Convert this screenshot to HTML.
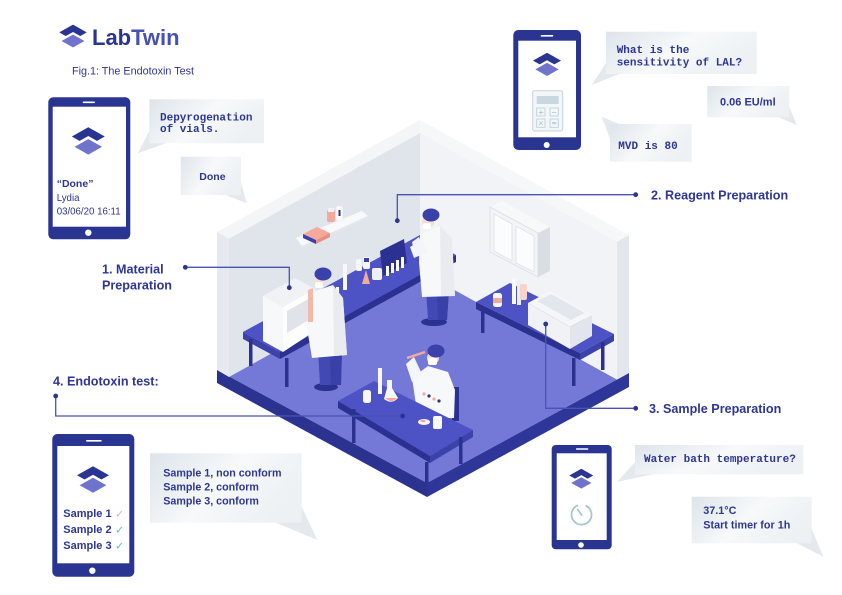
<!DOCTYPE html>
<html><head><meta charset="utf-8"><style>
html,body{margin:0;padding:0;background:#fff;}
svg{display:block;}
.mono{font-family:"Liberation Mono",monospace;font-weight:bold;font-size:11px;fill:#2d3696;}
.sans{font-family:"Liberation Sans",sans-serif;fill:#2d3696;}
.lbl{font-family:"Liberation Sans",sans-serif;font-weight:bold;font-size:12.6px;fill:#2d3696;}
</style></head><body>
<svg width="842" height="595" viewBox="0 0 842 595" xmlns="http://www.w3.org/2000/svg">
<defs>
<linearGradient id="bg" x1="0" y1="0" x2="1" y2="0.4">
<stop offset="0" stop-color="#dde4ea"/><stop offset="0.55" stop-color="#f7f9fa"/><stop offset="1" stop-color="#edf1f4"/>
</linearGradient>
<g id="logo">
<polygon points="-16,-5 0,-14 16,-5 0,4" fill="#2a3592"/>
<polygon points="-16,5 0,-4 16,5 0,14" fill="#6f73cc" stroke="#fff" stroke-width="2.6" stroke-linejoin="miter"/>
</g>
</defs>

<!-- Header -->
<use href="#logo" transform="translate(73,36.7) scale(0.86)"/>
<text x="92" y="45" font-family="Liberation Sans, sans-serif" font-weight="bold" font-size="22"><tspan fill="#2a3592">Lab</tspan><tspan fill="#4551b3">Twin</tspan></text>
<text x="72" y="74.5" class="sans" font-size="10.8">Fig.1: The Endotoxin Test</text>

<!-- ROOM -->
<!-- floor -->
<polygon points="217,370 420,258 629,373 427,483" fill="#7479d8"/>
<polygon points="217,370 427,483 427,497 217,383" fill="#2b3290"/>
<polygon points="427,483 629,373 629,387 427,497" fill="#2f3699"/>
<!-- left wall -->
<polygon points="229,238.6 420,133 420,271 229,377" fill="#e0e4eb"/>
<polygon points="217,232 229,238.6 229,377 217,370" fill="#e6e9ef"/>
<polygon points="217,232 420,120 420,133 229,238.6" fill="#f3f5f7"/>
<!-- right wall -->
<polygon points="420,133 617,241.6 617,379.6 420,271" fill="#f1f3f6"/>
<polygon points="617,241.6 629,235 629,373 617,379.6" fill="#e3e7ec"/>
<polygon points="420,120 629,235 617,241.6 420,133" fill="#f6f7f9"/>

<!-- shelf on left wall -->
<polygon points="296,238 362,211 368,216 302,246" fill="#f8f9fb"/>
<polygon points="302,246 368,216 368,219 302,249" fill="#e3e6ec"/>
<polygon points="303,234 317,227 330,233 316,240" fill="#f4a99a"/>
<polygon points="303,234 316,240 316,244 303,238" fill="#3a41aa"/>
<polygon points="316,240 330,233 330,237 316,244" fill="#e88f7f"/>
<rect x="327" y="210" width="8" height="12" rx="2" fill="#f4a99a"/>
<rect x="328" y="208" width="6" height="4" fill="#f0f1f5"/>
<rect x="336" y="206" width="7" height="15" rx="2" fill="#fafbfc" stroke="#e1e4ea" stroke-width="0.5"/>
<rect x="338.5" y="210" width="2" height="6" fill="#2a3592"/>

<!-- wall cabinet on right wall -->
<polygon points="490,207 502,201 550,227 538,233" fill="#f7f8fa"/>
<polygon points="490,207 538,233 538,277 490,252" fill="#f2f4f7" stroke="#dfe3e9" stroke-width="1"/>
<polygon points="538,233 550,227 550,271 538,277" fill="#d9dde4"/>
<polygon points="494,214 512,224 512,261 494,251" fill="#fbfcfd" stroke="#e0e4ea" stroke-width="1"/>
<polygon points="516,226 534,236 534,272 516,263" fill="#fbfcfd" stroke="#e0e4ea" stroke-width="1"/>

<!-- long bench (left) -->
<polygon points="243,332 420,235 456,255 280,352" fill="#4d53c4"/>
<polygon points="280,352 456,255 456,262 280,359" fill="#2b3190"/>
<polygon points="243,332 280,352 280,359 243,339" fill="#3b42aa"/>
<rect x="249" y="339" width="3.5" height="27" fill="#2b3190"/>
<rect x="285" y="358" width="3.5" height="29" fill="#2b3190"/>
<!-- glassware on long bench -->
<polygon points="380,251 404,239 407,263 383,276" fill="#2b3190"/>
<rect x="386" y="266" width="3" height="10" fill="#fafbfc"/>
<rect x="391" y="263" width="3" height="10" fill="#fafbfc"/>
<rect x="396" y="260" width="3" height="11" fill="#fafbfc"/>
<rect x="401" y="257" width="3" height="11" fill="#fafbfc"/>
<rect x="372" y="268" width="10" height="12" rx="2" fill="#eef0f4"/>
<rect x="363" y="257" width="7" height="12" rx="2" fill="#f5f6f9"/>
<rect x="364" y="258" width="5" height="4" fill="#3a41aa"/>
<path d="M362,284 L366,270 L370,284 Z" fill="#f4a99a"/>
<rect x="356" y="259" width="6" height="12" rx="2" fill="#f5f6f9"/>
<rect x="343" y="264" width="4" height="26" fill="#f7f8fa"/>
<rect x="336" y="287" width="3" height="10" fill="#f7f8fa"/>
<rect x="329" y="291" width="3" height="10" fill="#f7f8fa"/>
<polygon points="412,242 419,237 423,248 414,252" fill="#f2f3f7"/>

<!-- white cabinet (hood) -->
<polygon points="263,296 295,278 315,289 283,307" fill="#f1f2f6"/>
<polygon points="263,296 283,307 283,352 263,341" fill="#f7f8fa"/>
<polygon points="283,307 315,289 315,331 283,352" fill="#fdfdfe"/>
<polygon points="287,311 312,297 312,318 287,333" fill="#e0e3ea"/>

<!-- person 2 (back) -->
<ellipse cx="434" cy="322" rx="13" ry="4" fill="#2b3190"/>
<polygon points="426,290 449,290 447,320 428,320" fill="#4249b5"/>
<polygon points="437,292 449,290 447,320 438,320" fill="#3940a8"/>
<polygon points="420,234 440,226 452,238 455,296 422,297 419,262" fill="#f7f8fa"/>
<polygon points="440,226 452,238 455,296 441,296" fill="#e9ebf0"/>
<polygon points="410,247 422,240 428,252 414,258" fill="#f4f5f8"/>
<circle cx="428" cy="222" r="6" fill="#f6dcd3"/>
<rect x="423" y="223" width="8" height="6" rx="2" fill="#fff"/>
<ellipse cx="431" cy="215" rx="8.5" ry="6.5" fill="#3a41aa"/>

<!-- right bench -->
<polygon points="476,302 510,283 614,334 580,353" fill="#4d53c4"/>
<polygon points="476,302 580,353 580,360 476,309" fill="#2b3190"/>
<polygon points="580,353 614,334 614,341 580,360" fill="#3b42aa"/>
<rect x="481" y="309" width="3.5" height="24" fill="#2b3190"/>
<rect x="572" y="358" width="3.5" height="28" fill="#2b3190"/>
<rect x="601" y="342" width="3.5" height="28" fill="#2b3190"/>
<!-- items on right bench -->
<rect x="493" y="293" width="9" height="14" rx="2.5" fill="#f6f7f9"/>
<rect x="493" y="298" width="9" height="5" fill="#f4a99a"/>
<rect x="512" y="278" width="4" height="26" fill="#f7f8fa"/>
<rect x="517" y="281" width="4" height="24" fill="#eceef2"/>
<rect x="520" y="284" width="7" height="16" rx="2" fill="#f8d3ca"/>
<!-- water bath -->
<polygon points="528,303 550,291 592,315 570,327" fill="#f5f6f8"/>
<polygon points="537,301 551,294 585,313 571,320" fill="#e3e6ec"/>
<polygon points="528,303 570,327 570,349 528,325" fill="#f0f2f5"/>
<polygon points="570,327 592,315 592,336 570,349" fill="#e2e5eb"/>

<!-- person 1 (left standing) -->
<ellipse cx="326" cy="387" rx="12" ry="4" fill="#2b3190"/>
<polygon points="318,350 342,350 341,385 320,385" fill="#4249b5"/>
<polygon points="330,350 342,350 341,385 331,385" fill="#3940a8"/>
<polygon points="312,292 333,285 343,298 347,355 312,358 307,328" fill="#f7f8fa"/>
<polygon points="333,285 343,298 347,355 334,356" fill="#e9ebf0"/>
<polygon points="308,290 313,288 313,322 308,322" fill="#f2b8a8"/>
<circle cx="320" cy="281" r="6" fill="#f6dcd3"/>
<rect x="315" y="282" width="8" height="6" rx="2" fill="#fff"/>
<ellipse cx="323" cy="274" rx="8.5" ry="6.5" fill="#3a41aa"/>

<!-- person 3 (seated) -->
<rect x="452" y="387" width="7" height="34" fill="#2b3190"/>
<polygon points="412,378 428,366 448,372 455,390 454,418 418,418" fill="#f7f8fa"/>
<polygon points="406,364 414,357 422,374 412,382" fill="#f4f5f8"/>
<line x1="407" y1="358" x2="425" y2="352" stroke="#f4a99a" stroke-width="2.5"/>
<circle cx="433" cy="358" r="6" fill="#f6dcd3"/>
<rect x="428" y="358" width="9" height="7" rx="2" fill="#fff"/>
<ellipse cx="436" cy="351" rx="8.5" ry="6.5" fill="#3a41aa"/>
<circle cx="424" cy="394" r="1.6" fill="#f4a99a"/><circle cx="429" cy="396" r="1.6" fill="#2b3190"/>
<circle cx="434" cy="399" r="1.6" fill="#f4a99a"/><circle cx="439" cy="401" r="1.6" fill="#2b3190"/>

<!-- front desk -->
<polygon points="338,401 374,381 473,430 430,456" fill="#4d53c4"/>
<polygon points="338,401 430,456 430,463 338,408" fill="#2b3190"/>
<polygon points="430,456 473,430 473,437 430,463" fill="#3b42aa"/>
<rect x="352" y="409" width="3.5" height="34" fill="#2b3190"/>
<rect x="425" y="462" width="3.5" height="22" fill="#2b3190"/>
<rect x="459" y="437" width="3.5" height="27" fill="#2b3190"/>
<!-- front desk items -->
<rect x="363" y="390" width="8" height="13" rx="2.5" fill="#f6f7f9"/>
<rect x="378" y="368" width="4" height="26" fill="#f7f8fa"/>
<path d="M387,380 L392,380 L392,388 L398,398 Q392,405 384,399 L387,388 Z" fill="#f6f7f9"/>
<path d="M385,398 Q392,404 397,398" fill="#f4a99a"/>
<ellipse cx="424" cy="422" rx="6" ry="3" fill="#f6f7f9"/>
<ellipse cx="423" cy="421" rx="2.5" ry="1.2" fill="#f4a99a"/>
<rect x="433" y="416" width="9" height="13" rx="2" fill="#f7f8fa"/>

<!-- leader lines -->
<g stroke="#4a52b5" stroke-width="1.3" fill="none">
<polyline points="185.3,267.3 289.3,267.3 289.3,287.7"/>
<polyline points="397.3,220.7 397.3,194.7 635.7,194.7"/>
<polyline points="545.7,324 545.7,408.3 635.7,408.3"/>
<polyline points="55.7,396 55.7,416 402.7,416"/>
</g>
<g fill="#2d3594">
<circle cx="185.3" cy="267.3" r="2.4"/><circle cx="289.3" cy="287.7" r="2.4"/>
<circle cx="397.3" cy="220.7" r="2.4"/><circle cx="635.7" cy="194.7" r="2.4"/>
<circle cx="545.7" cy="324" r="2.4"/><circle cx="635.7" cy="408.3" r="2.4"/>
<circle cx="55.7" cy="396" r="2.4"/><circle cx="402.7" cy="416" r="2.4"/>
</g>

<!-- labels -->
<text x="102" y="273.3" class="lbl">1. Material</text>
<text x="102" y="289.5" class="lbl">Preparation</text>
<text x="651" y="199.3" class="lbl">2. Reagent Preparation</text>
<text x="649" y="413" class="lbl">3. Sample Preparation</text>
<text x="53" y="385.7" class="lbl">4. Endotoxin test:</text>

<!-- BUBBLES -->
<g fill="#e4e9ee">
<polygon points="149.3,131 137.7,153.3 166,143.3"/>
<polygon points="241,182 246.7,203.3 226,195"/>
<polygon points="606,63 591.7,85 619,74"/>
<polygon points="789.3,107 796.7,125 779,117.3"/>
<polygon points="619,124 601.7,116.7 610,139"/>
<polygon points="301.7,507 317.3,540 276,522.7"/>
<polygon points="635,462 617.3,481.7 653,474.3"/>
<polygon points="811.7,529 823.3,556.7 797,543.3"/>
</g>
<g fill="url(#bg)">
<rect x="149.3" y="99.3" width="114.7" height="44"/>
<rect x="180.7" y="156.7" width="60.3" height="38.3"/>
<rect x="606" y="31.7" width="150.7" height="42.3"/>
<rect x="707.3" y="86" width="82" height="31.3"/>
<rect x="610" y="124" width="81.7" height="37.7"/>
<rect x="150" y="453.3" width="151.7" height="69.4"/>
<rect x="635" y="445" width="168.3" height="29.3"/>
<rect x="691.7" y="496.7" width="120" height="46.6"/>
</g>
<text x="160" y="120.5" class="mono">Depyrogenation</text>
<text x="160" y="132" class="mono">of vials.</text>
<text x="199.3" y="179.8" class="sans" font-weight="bold" font-size="10.5">Done</text>
<text x="616.7" y="53" class="mono">What is the</text>
<text x="616.7" y="65.5" class="mono">sensitivity of LAL?</text>
<text x="720" y="105.6" class="sans" font-weight="bold" font-size="11">0.06 EU/ml</text>
<text x="618.3" y="148.8" class="mono">MVD is 80</text>
<text x="163.3" y="476.6" class="sans" font-weight="bold" font-size="10.7">Sample 1, non conform</text>
<text x="163.3" y="490.6" class="sans" font-weight="bold" font-size="10.7">Sample 2, conform</text>
<text x="163.3" y="504.6" class="sans" font-weight="bold" font-size="10.7">Sample 3, conform</text>
<text x="644" y="462" class="mono">Water bath temperature?</text>
<text x="703.3" y="514" class="sans" font-weight="bold" font-size="10.8">37.1°C</text>
<text x="703.3" y="528.3" class="sans" font-weight="bold" font-size="10.8">Start timer for 1h</text>

<!-- PHONES -->
<!-- phone 1 -->
<rect x="48.3" y="97.3" width="82" height="142" rx="5" fill="#2a3592"/>
<rect x="52.7" y="106.7" width="73.3" height="120" fill="#fff"/>
<rect x="82.7" y="101.5" width="12.3" height="1.6" rx="0.8" fill="#fff"/>
<circle cx="88.3" cy="232.7" r="3.2" fill="#fff"/>
<use href="#logo" transform="translate(88.3,141.7) scale(1.03)"/>
<text x="56.7" y="187" class="sans" font-weight="bold" font-size="10.5">“Done”</text>
<text x="56.7" y="201" class="sans" font-size="9.7">Lydia</text>
<text x="56.7" y="214.5" class="sans" font-size="9.7">03/06/20 16:11</text>

<!-- phone 2 -->
<rect x="513.3" y="30" width="67.7" height="120" rx="5" fill="#2a3592"/>
<rect x="518.3" y="40.7" width="57.7" height="96.6" fill="#fff"/>
<rect x="540.7" y="35" width="12.6" height="1.6" rx="0.8" fill="#fff"/>
<circle cx="546.7" cy="145" r="3" fill="#fff"/>
<use href="#logo" transform="translate(547,65) scale(0.875)"/>
<rect x="532.7" y="90.7" width="30" height="40.3" rx="2" fill="#f4f7f9" stroke="#c3d3db" stroke-width="1"/>
<rect x="536.7" y="96" width="22" height="8" fill="#c9d7de"/>
<g fill="none" stroke="#b9ccd5" stroke-width="0.8">
<rect x="536.7" y="108" width="8.3" height="8"/><rect x="550" y="108" width="8.3" height="8"/>
<rect x="536.7" y="119" width="8.3" height="8.3"/><rect x="550" y="119" width="8.3" height="8.3"/>
</g>
<g font-family="DejaVu Sans, sans-serif" font-size="7" fill="#9fb8c3" text-anchor="middle">
<text x="540.9" y="114.5">+</text><text x="554.2" y="114.5">−</text>
<text x="540.9" y="125.6">×</text><text x="554.2" y="125.6">=</text>
</g>

<!-- phone 3 -->
<rect x="52.3" y="434" width="82" height="142.7" rx="5" fill="#2a3592"/>
<rect x="57.3" y="446" width="72" height="117.3" fill="#fff"/>
<rect x="86" y="440" width="15.7" height="1.6" rx="0.8" fill="#fff"/>
<circle cx="92.3" cy="570.7" r="3.2" fill="#fff"/>
<use href="#logo" transform="translate(93,480.3) scale(1.0)"/>
<text x="63.3" y="517.2" class="sans" font-weight="bold" font-size="11">Sample 1</text>
<text x="63.3" y="533" class="sans" font-weight="bold" font-size="11">Sample 2</text>
<text x="63.3" y="549" class="sans" font-weight="bold" font-size="11">Sample 3</text>
<text x="115" y="517.5" font-family="DejaVu Sans, sans-serif" font-size="11" fill="#f2a8a2">✓</text>
<text x="115" y="533.3" font-family="DejaVu Sans, sans-serif" font-size="11" fill="#5cc29a">✓</text>
<text x="115" y="549.3" font-family="DejaVu Sans, sans-serif" font-size="11" fill="#5cc29a">✓</text>

<!-- phone 4 -->
<rect x="551.7" y="445" width="60" height="104.3" rx="4" fill="#2a3592"/>
<rect x="556.7" y="453.3" width="50" height="86.7" fill="#fff"/>
<rect x="576" y="448.3" width="12.3" height="1.5" rx="0.7" fill="#fff"/>
<circle cx="581" cy="545" r="2.8" fill="#fff"/>
<use href="#logo" transform="translate(581.3,479.2) scale(0.75)"/>
<path d="M578,505.3 A10,10 0 1 0 585.5,505.5" fill="none" stroke="#a9c6cf" stroke-width="1.8"/>
<line x1="581.7" y1="515" x2="577.5" y2="509.5" stroke="#a9c6cf" stroke-width="1.8" stroke-linecap="round"/>
</svg>
</body></html>
